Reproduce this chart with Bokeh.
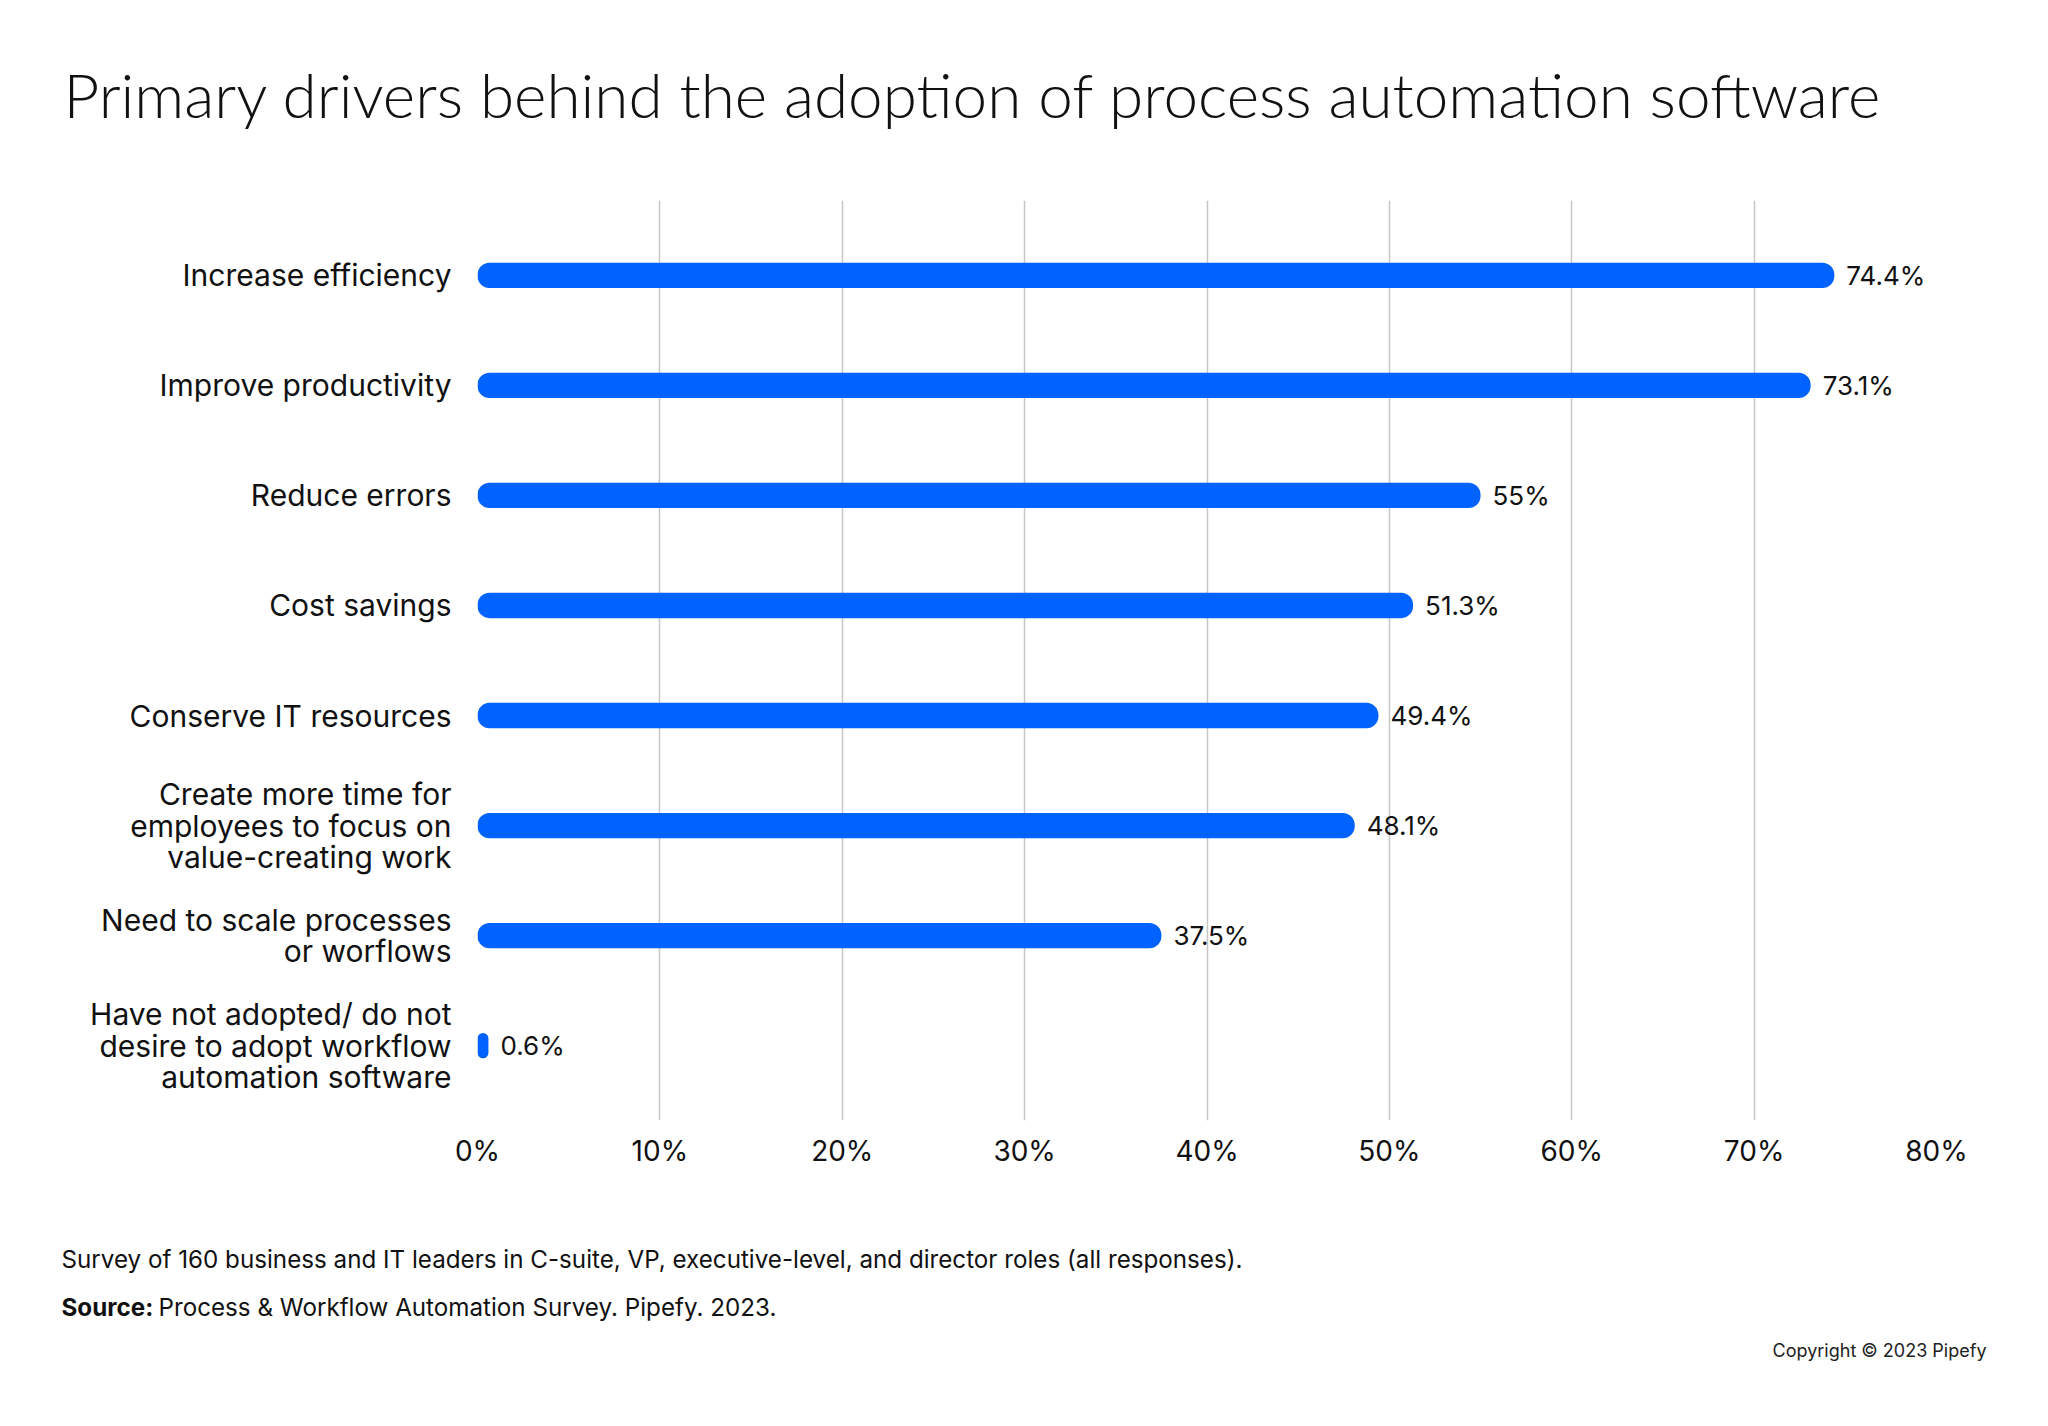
from bokeh.plotting import figure
from bokeh.models import Range1d, PrintfTickFormatter, ColumnDataSource, FixedTicker
from bokeh.layouts import column
from bokeh.core.properties import value
from bokeh.embed import file_html
from bokeh.resources import INLINE

# Survey drivers, top to bottom
drivers = [
    "Increase efficiency",
    "Improve productivity",
    "Reduce errors",
    "Cost savings",
    "Conserve IT resources",
    "Create more time for\nemployees to focus on\nvalue-creating work",
    "Need to scale processes\nor worflows",
    "Have not adopted/ do not\ndesire to adopt workflow\nautomation software",
]
shares = [74.4, 73.1, 55.0, 51.3, 49.4, 48.1, 37.5, 0.6]
share_labels = ["74.4%", "73.1%", "55%", "51.3%", "49.4%", "48.1%", "37.5%", "0.6%"]
x_ticks = [0, 10, 20, 30, 40, 50, 60, 70, 80]

title_text = "Primary drivers behind the adoption of process automation software"
note_text = "Survey of 160 business and IT leaders in C-suite, VP, executive-level, and director roles (all responses)."
source_head = "Source:"
source_text = "Process & Workflow Automation Survey. Pipefy. 2023."
copyright_text = "Copyright \u00a9 2023 Pipefy"

BLUE = "#0062FF"
FONT = "Inter"
INK = "#111111"

W, H = 2048, 1426
HEADER_H = 200
FOOTER_TOP = 1190
CHART_H = FOOTER_TOP - HEADER_H
FOOTER_H = H - FOOTER_TOP
LEFT, RIGHT, BOTTOM = 477, 112, 70


def no_frame_align(fig):
    try:
        fig.frame_align = False
    except AttributeError:
        pass


def text_panel(height):
    """A blank figure whose data units are pixels (y grows downward)."""
    f = figure(width=W, height=height, x_range=Range1d(0, W), y_range=Range1d(height, 0),
               output_backend="svg", toolbar_location=None,
               min_border=0, min_border_left=0, min_border_right=0,
               min_border_top=0, min_border_bottom=0)
    f.axis.visible = False
    f.grid.visible = False
    f.outline_line_color = None
    f.background_fill_color = "white"
    f.border_fill_color = "white"
    no_frame_align(f)
    return f


# header with the title
header = text_panel(HEADER_H)
header.text(x=[63], y=[93], text=[title_text], text_font=value("Lato Light"),
            text_font_size="62px", text_color=INK, text_align="left",
            text_baseline="alphabetic")

# main chart
rows = list(range(len(drivers)))
src = ColumnDataSource(dict(row=rows, share=shares, label=share_labels))

p = figure(
    width=W, height=CHART_H,
    x_range=Range1d(0, 80),
    y_range=Range1d(len(drivers) - 0.5 + 0.18, -0.5 - 0.18),
    output_backend="svg", toolbar_location=None,
    min_border_left=LEFT, min_border_right=RIGHT,
    min_border_top=0, min_border_bottom=BOTTOM,
)
no_frame_align(p)
p.outline_line_color = None
p.background_fill_color = "white"
p.border_fill_color = "white"

p.ygrid.grid_line_color = None
p.xgrid.grid_line_color = "#c6c6c6"
p.xgrid.grid_line_width = 1.5
p.xaxis.ticker = x_ticks
p.xaxis.formatter = PrintfTickFormatter(format="%d%%")
p.xaxis.axis_line_color = None
p.xaxis.major_tick_line_color = None
p.xaxis.minor_tick_line_color = None
p.xaxis.major_tick_out = 0
p.xaxis.major_tick_in = 0
p.xaxis.major_label_standoff = 13
p.xaxis.major_label_text_font = FONT
p.xaxis.major_label_text_font_size = "28px"
p.xaxis.major_label_text_color = INK

# y axis carries the driver names
p.yaxis.ticker = FixedTicker(ticks=rows)
p.yaxis.major_label_overrides = {i: d for i, d in zip(rows, drivers)}
p.yaxis.axis_line_color = None
p.yaxis.major_tick_line_color = None
p.yaxis.minor_tick_line_color = None
p.yaxis.major_tick_out = 0
p.yaxis.major_tick_in = 0
p.yaxis.major_label_standoff = 26
p.yaxis.major_label_text_font = FONT
p.yaxis.major_label_text_font_size = "30px"
p.yaxis.major_label_text_color = INK
p.yaxis.major_label_text_align = "right"
p.yaxis.major_label_text_line_height = 0.87

# rounded bars
p.hbar(y="row", left=0, right="share", height=0.23, source=src,
       fill_color=BLUE, line_color=None, border_radius=12)

# value labels
p.text(x="share", y="row", text="label", source=src, x_offset=12,
       text_font=value(FONT), text_font_size="26px", text_color=INK,
       text_align="left", text_baseline="middle")

# footer with notes
footer = text_panel(FOOTER_H)
footer.text(x=[61], y=[1259 - FOOTER_TOP], text=[note_text], text_font=value(FONT),
            text_font_size="24.2px", text_color=INK, text_align="left", text_baseline="middle")
footer.text(x=[61], y=[1307 - FOOTER_TOP], text=[source_head], text_font=value(FONT),
            text_font_size="24.2px", text_font_style="bold", text_color=INK,
            text_align="left", text_baseline="middle")
footer.text(x=[158], y=[1307 - FOOTER_TOP], text=[source_text], text_font=value(FONT),
            text_font_size="24.2px", text_color=INK, text_align="left", text_baseline="middle")
footer.text(x=[1986], y=[1350 - FOOTER_TOP], text=[copyright_text], text_font=value(FONT),
            text_font_size="18px", text_color="#222222", text_align="right",
            text_baseline="middle")

page = column(column(header), p, column(footer), spacing=0)
open("out.html", "w").write(file_html(page, INLINE))
